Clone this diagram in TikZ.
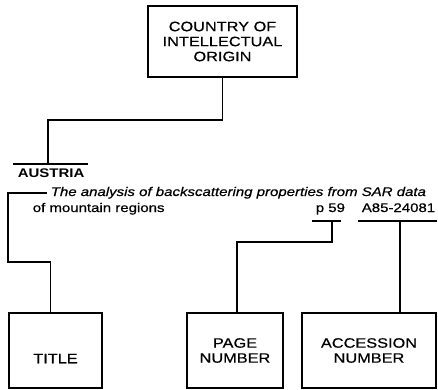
\documentclass[tikz,border=0pt]{standalone}
\usepackage{fontspec}
\setmainfont{Liberation Sans}[FakeStretch=1.2,
  UprightFeatures={FakeBold=0.6}, ItalicFeatures={FakeBold=0.6}]
\usetikzlibrary{positioning}
\tikzset{
  every picture/.style={line width=1.6pt},
  field/.style={draw, align=center, inner sep=0pt,
    font=\fontsize{13.6}{15}\selectfont},
  entry/.style={inner sep=0pt, font=\fontsize{12.5}{14}\selectfont},
}

\begin{document}
\begin{tikzpicture}[x=1pt, y=-1pt]
  \useasboundingbox (0,0) rectangle (438,389);

  \node [field, minimum width=149pt, minimum height=71pt] (origin) at (222.5,41.5) {COUNTRY OF\\INTELLECTUAL\\ORIGIN};

  \node [entry, anchor=base west, font=\fontsize{12.5}{14}\selectfont\bfseries] (austria) at (17,177) {AUSTRIA};
  \coordinate (austriabar) at (48,164);
  \draw (13,164) -- (88,164);

  \node [entry, anchor=base west, font=\fontsize{12.5}{14}\selectfont\itshape] (title) at (50,196) {The analysis of backscattering properties from SAR data};
  \node [entry, anchor=base west] (title2) at (32,212) {of mountain regions};
  \node [entry, anchor=base west] (page) at (315,212) {p 59};
  \node [entry, anchor=base west] (accno) at (361,212) {A85-24081};
  \coordinate (pagebar) at (332,221);
  \coordinate (accbar) at (400,221);
  \draw (312,221) -- (341,221);
  \draw (358,221) -- (437,221);

  \node [field, minimum width=93pt, minimum height=75pt] (titlebox) at (55.5,350.5) {\strut\\TITLE};
  \node [field, minimum width=96pt, minimum height=75pt] (pagebox) at (235,350.5) {PAGE\\NUMBER};
  \node [field, minimum width=134pt, minimum height=75pt] (accbox) at (369,350.5) {ACCESSION\\NUMBER};

  % connectors
  \coordinate (bracket) at (8,262);
  \draw (origin.south) -- ++(0,42) -| (austriabar);
  \draw ([xshift=-3pt]title.west) -| (bracket) -| ([xshift=-5pt]titlebox.north);
  \draw (pagebar) -- ++(0,21) -| ([xshift=2pt]pagebox.north);
  \draw (accbar) -- (accbar |- accbox.north);
\end{tikzpicture}
\end{document}
